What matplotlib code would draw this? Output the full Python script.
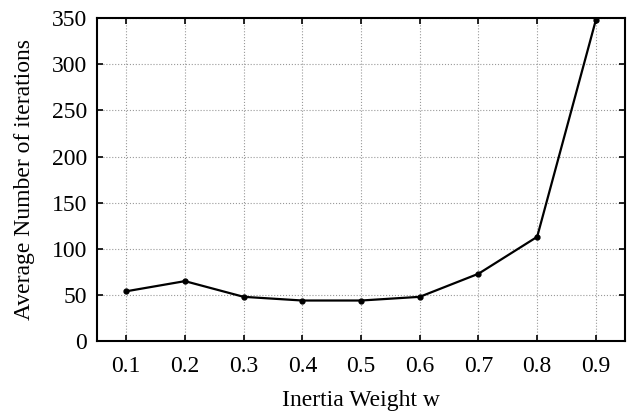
import matplotlib
matplotlib.use("Agg")
import matplotlib.pyplot as plt

# valeurs
w = [0.1, 0.2, 0.3, 0.4, 0.5, 0.6, 0.7, 0.8, 0.9]
iterations = [54, 65, 48, 44, 44, 48, 73, 113, 348]

plt.rcParams["font.family"] = ["Liberation Serif", "DejaVu Serif"]

fig = plt.figure(figsize=(6.29, 4.11), dpi=100)
ax = fig.add_axes([0.154, 0.170, 0.840, 0.786])
ax.plot(w, iterations, color="black", linewidth=1.6, marker="o", markersize=3.5)

ax.set_xlim(0.05, 0.95)
ax.set_ylim(0, 350)
ax.set_xticks(w)
ax.set_yticks(range(0, 351, 50))
ax.grid(True, linestyle=":", color="#999999", linewidth=0.8)
ax.tick_params(direction="in", top=True, right=True, length=4, width=1.2,
               labelsize=17)
ax.tick_params(axis="x", pad=11)
ax.tick_params(axis="y", pad=7)
for s in ax.spines.values():
    s.set_linewidth(1.5)

ax.set_xlabel("Inertia Weight w", fontsize=17, labelpad=9)
ax.set_ylabel("Average Number of iterations", fontsize=17, labelpad=12)

fig.savefig("out.png", dpi=100)
